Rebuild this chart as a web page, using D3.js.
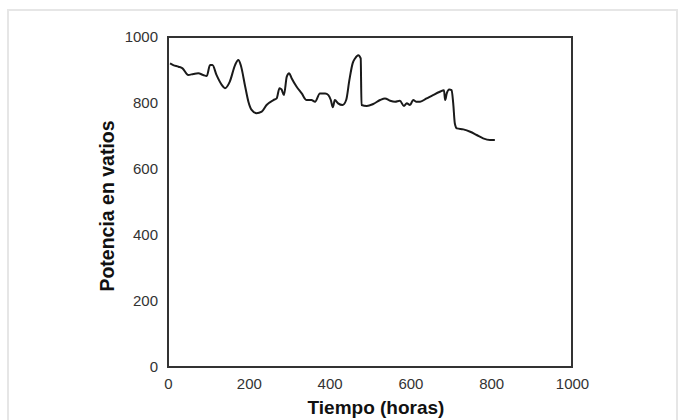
<!DOCTYPE html>
<html>
<head>
<meta charset="utf-8">
<script src="https://cdn.jsdelivr.net/npm/d3@7"></script>
<style>
html,body{margin:0;padding:0;background:#fff;}
svg{display:block;}
</style>
</head>
<body>
<svg id="chart" width="685" height="420"></svg>
<script>
const hours = [5,13,26,36,50,63,75,87,96,104,110,120,133,141,153,166,174,180,191,199,207,219,232,244,261,269,276,281,287,294,300,306,318,331,343,355,364,376,389,397,403,408,413,421,432,441,449,457,463,471,477,479,492,508,525,537,550,562,574,584,591,599,607,614,624,640,656,673,683,686,690,696,702,706,710,715,731,748,764,780,797,809];
const power = [920,915,910,905,885,888,890,885,882,915,915,885,855,845,865,915,930,915,850,804,779,769,774,794,809,814,845,841,824,880,890,875,850,829,809,809,804,829,829,824,809,787,809,799,794,809,870,920,935,945,935,794,791,797,809,814,807,804,807,791,799,794,809,804,804,814,824,834,839,809,829,841,839,799,738,723,720,713,703,693,688,688];
const xTicks = [0,200,400,600,800,1000];
const yTicks = [0,200,400,600,800,1000];
const xTitle = "Tiempo (horas)";
const yTitle = "Potencia en vatios";

(function(){
const svg = d3.select("#chart");
svg.append("rect").attr("x",8).attr("y",10).attr("width",669).attr("height",420)
  .attr("fill","none").attr("stroke","#e6e6e6").attr("stroke-width",2);

const mL=168, mR=572, mT=37, mB=367;
const x = d3.scaleLinear().domain([0,1000]).range([mL,mR]);
const y = d3.scaleLinear().domain([0,1000]).range([mB,mT]);

const font = "'Liberation Sans', Arial, Helvetica, sans-serif";
const fmt = d3.format("d");

const xAxis = svg.append("g").attr("transform",`translate(0,${mB})`)
  .call(d3.axisBottom(x).tickValues(xTicks).tickFormat(fmt).tickSize(0).tickPadding(11));
const yAxis = svg.append("g").attr("transform",`translate(${mL},0)`)
  .call(d3.axisLeft(y).tickValues(yTicks).tickFormat(fmt).tickSize(0).tickPadding(10));
[xAxis,yAxis].forEach(g=>{
  g.select(".domain").remove();
  g.selectAll("text").attr("font-family",font).attr("font-size",15).attr("fill","#333");
});

svg.append("rect").attr("x",mL).attr("y",mT).attr("width",mR-mL).attr("height",mB-mT)
  .attr("fill","none").attr("stroke","#333").attr("stroke-width",2);

const line = d3.line().x((d,i)=>x(hours[i])).y(d=>y(d)).curve(d3.curveMonotoneX);
svg.append("path").datum(power).attr("d",line).attr("fill","none")
  .attr("stroke","#1a1a1a").attr("stroke-width",2).attr("stroke-linejoin","round");

svg.append("text").attr("x",(mL+mR)/2+6).attr("y",414).attr("text-anchor","middle")
  .attr("font-family",font).attr("font-weight","bold").attr("font-size",19).attr("fill","#111").text(xTitle);
svg.append("text").attr("transform",`translate(114,${(mT+mB)/2+4}) rotate(-90)`).attr("text-anchor","middle")
  .attr("font-family",font).attr("font-weight","bold").attr("font-size",19.5).attr("fill","#111").text(yTitle);
})();
</script>
</body>
</html>
